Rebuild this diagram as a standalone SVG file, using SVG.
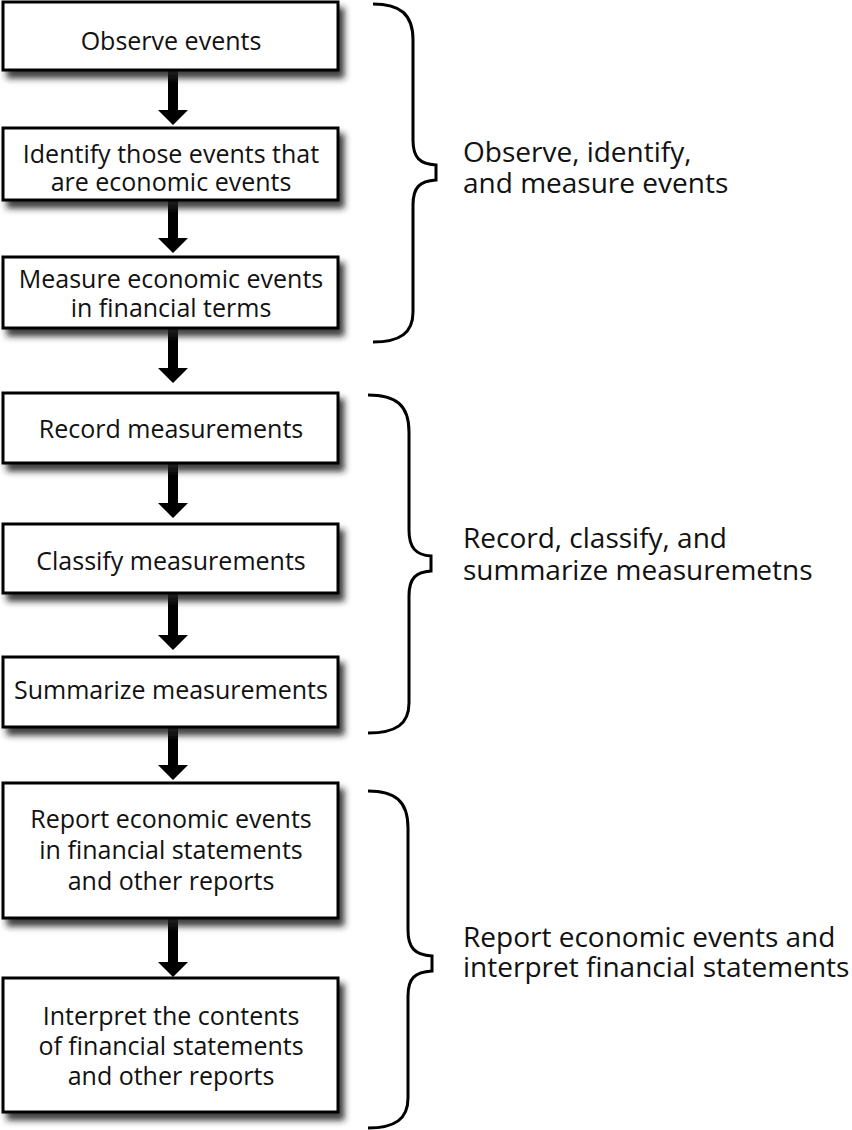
<svg xmlns="http://www.w3.org/2000/svg" width="852" height="1130" viewBox="0 0 852 1130">
<defs>
<filter id="sh" x="-10%" y="-20%" width="130%" height="160%">
<feDropShadow dx="5" dy="7" stdDeviation="3" flood-color="#222" flood-opacity="0.85"/>
</filter>
<style>
.box{fill:#fff;stroke:#000;stroke-width:3;filter:url(#sh)}
.bt{font-family:"Open Sans","Liberation Sans",sans-serif;font-size:25px;fill:#111;text-anchor:middle}
.lb{font-family:"Open Sans","Liberation Sans",sans-serif;font-size:28px;fill:#111}
.arr{fill:#000}
.brace{fill:none;stroke:#000;stroke-width:3}
</style>
</defs>
<rect width="852" height="1130" fill="#fff"/>
<g id="connectors">
<polygon class="arr" points="168,70 178,70 178,110 188,110 173,125 158,110 168,110"/>
<polygon class="arr" points="168,200 178,200 178,238 188,238 173,253 158,238 168,238"/>
<polygon class="arr" points="168,328 178,328 178,368 188,368 173,383 158,368 168,368"/>
<polygon class="arr" points="168,463 178,463 178,503 188,503 173,518 158,503 168,503"/>
<polygon class="arr" points="168,593 178,593 178,635 188,635 173,650 158,635 168,635"/>
<polygon class="arr" points="168,727 178,727 178,765 188,765 173,780 158,765 168,765"/>
<polygon class="arr" points="168,918 178,918 178,962 188,962 173,977 158,962 168,962"/>
</g>
<g id="n1"><rect class="box" x="3" y="2" width="335" height="68"/><text class="bt" x="171" y="50">Observe events</text></g>
<g id="n2"><rect class="box" x="3" y="128" width="335" height="72"/><text class="bt" x="171" y="163">Identify those events that</text><text class="bt" x="171" y="191">are economic events</text></g>
<g id="n3"><rect class="box" x="3" y="257" width="335" height="71"/><text class="bt" x="171" y="288">Measure economic events</text><text class="bt" x="171" y="317">in financial terms</text></g>
<g id="n4"><rect class="box" x="3" y="393" width="335" height="70"/><text class="bt" x="171" y="438">Record measurements</text></g>
<g id="n5"><rect class="box" x="3" y="524" width="335" height="69"/><text class="bt" x="171" y="570">Classify measurements</text></g>
<g id="n6"><rect class="box" x="3" y="657" width="335" height="70"/><text class="bt" x="171" y="699">Summarize measurements</text></g>
<g id="n7"><rect class="box" x="3" y="783" width="335" height="135"/><text class="bt" x="171" y="828">Report economic events</text><text class="bt" x="171" y="859">in financial statements</text><text class="bt" x="171" y="890">and other reports</text></g>
<g id="n8"><rect class="box" x="3" y="978" width="335" height="134"/><text class="bt" x="171" y="1025">Interpret the contents</text><text class="bt" x="171" y="1055">of financial statements</text><text class="bt" x="171" y="1085">and other reports</text></g>
<g id="brace1">
<path class="brace" d="M373,4 C400,4 413,14 413,40 L413,140 C413,158 420,164 436,165 L436,180 C420,181 413,187 413,205 L413,312 C413,333 400,342 373,342"/>
<text class="lb" x="463" y="162">Observe, identify,</text>
<text class="lb" x="463" y="193">and measure events</text>
</g>
<g id="brace2">
<path class="brace" d="M368,395 C396,395 409,405 409,432 L409,530 C409,548 416,555 431,556 L431,571 C416,572 409,578 409,596 L409,703 C409,724 396,733 368,733"/>
<text class="lb" x="463" y="548">Record, classify, and</text>
<text class="lb" x="463" y="580">summarize measuremetns</text>
</g>
<g id="brace3">
<path class="brace" d="M368,791 C395,791 408,801 408,828 L408,930 C408,948 415,955 432,956 L432,971 C415,972 408,978 408,996 L408,1098 C408,1119 395,1128 368,1128"/>
<text class="lb" x="463" y="947">Report economic events and</text>
<text class="lb" x="463" y="977">interpret financial statements</text>
</g>
</svg>
